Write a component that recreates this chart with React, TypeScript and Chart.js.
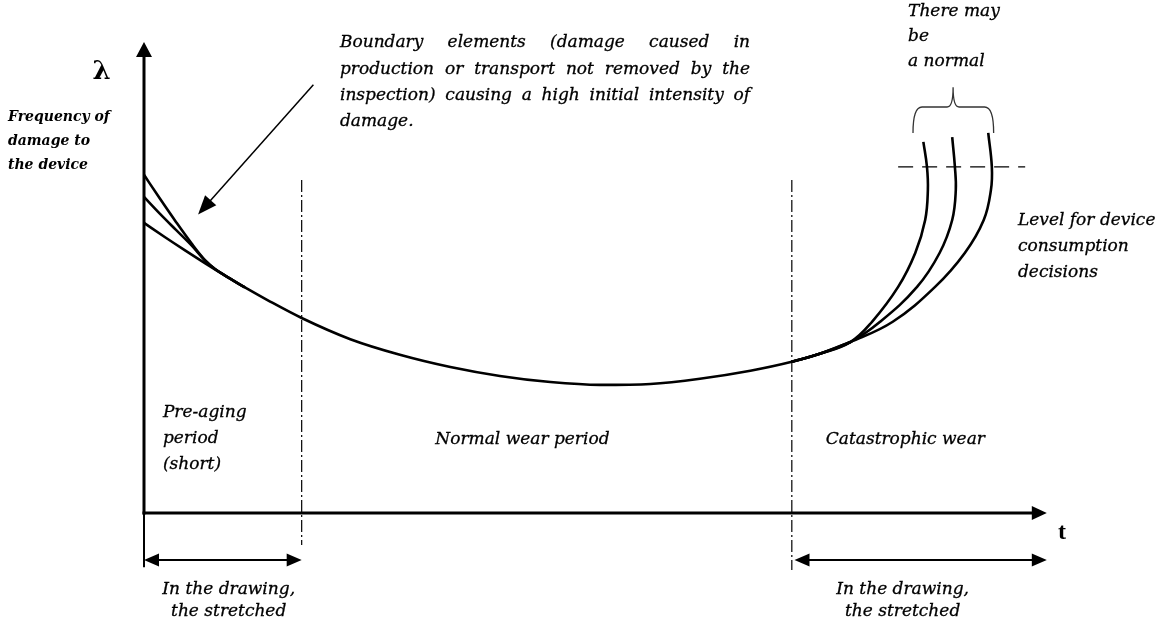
import React, { useEffect, useRef } from "react";
import { Chart, registerables } from "chart.js";

Chart.register(...registerables);

// ---- Data (time t and damage intensity λ, arbitrary units 0..100) ----
// main bathtub curve (lowest initial branch, normal wear, start of wear-out)
const mainT = [0, 2.3, 4.6, 6.8, 9.0, 11.2, 14.0, 17.5, 22.9, 28.4, 34.0, 39.5, 45.1, 50.6, 56.2, 61.7, 67.3, 71.9, 75.0, 78.4];
const mainLambda = [61.6, 58.6, 55.7, 53.0, 50.4, 47.9, 44.9, 41.4, 36.9, 33.6, 31.0, 29.1, 27.8, 27.2, 27.4, 28.5, 30.2, 32.1, 33.8, 36.3];

// higher initial intensities (boundary elements), merging into the main curve
const earlyT = [0, 1.78, 3.55, 5.33, 6.77, 7.88, 9.0, 11.2];
const earlyLambdaHigh = [71.8, 66.7, 61.8, 57.1, 53.7, 51.8, 50.4, 47.9];
const earlyLambdaMid = [67.1, 63.5, 60.1, 56.7, 53.6, 51.8, 50.4, 47.9];

// wear-out branches leaving the main curve
const lateTFirst = [71.9, 75.0, 78.4, 80.8, 83.7, 85.6, 86.7, 87.0, 86.9, 86.5];
const lateLambdaFirst = [32.1, 33.8, 36.3, 40.6, 48.0, 55.2, 62.2, 68.6, 73.5, 78.8];
const lateTSecond = [71.9, 75.0, 78.4, 81.7, 85.8, 88.3, 89.7, 90.1, 90.0, 89.7];
const lateLambdaSecond = [32.1, 33.8, 36.3, 40.6, 48.0, 55.2, 62.2, 68.6, 73.5, 79.8];
const lateTThird = [71.9, 75.0, 78.4, 83.1, 87.8, 91.1, 93.2, 94.0, 94.1, 93.7];
const lateLambdaThird = [32.1, 33.8, 36.3, 40.6, 48.0, 55.2, 62.2, 68.6, 73.5, 80.7];

const decisionLevel = 73.5;
const decisionLevelT = [83.7, 97.8];

const periodBoundsT = [17.5, 71.9];
const periodBoundTop = 70.7;
const periodBoundBottoms = [-6.8, -12.1];

// ---- Texts ----
const axisYLabel = "λ";
const axisXLabel = "t";
const yDescription = ["Frequency of", "damage to", "the device"];
const boundaryNote = [
  "Boundary elements (damage caused in",
  "production or transport not removed by the",
  "inspection) causing a high initial intensity of",
  "damage.",
];
const normalNote = ["There may", "be", "a normal"];
const levelNote = ["Level for device", "consumption", "decisions"];
const preAgingText = ["Pre-aging", "period", "(short)"];
const normalWearText = "Normal wear period";
const catastrophicText = "Catastrophic wear";
const stretchedText = ["In the drawing,", "the stretched"];

const SERIF = "'DejaVu Serif', serif";

const pts = (xs: number[], ys: number[]) => xs.map((x, i) => ({ x, y: ys[i] }));

function arrowHead(ctx: CanvasRenderingContext2D, fx: number, fy: number, tx: number, ty: number, len: number, half: number) {
  const a = Math.atan2(ty - fy, tx - fx);
  const bx = tx - len * Math.cos(a);
  const by = ty - len * Math.sin(a);
  ctx.beginPath();
  ctx.moveTo(tx, ty);
  ctx.lineTo(bx + half * Math.sin(a), by - half * Math.cos(a));
  ctx.lineTo(bx - half * Math.sin(a), by + half * Math.cos(a));
  ctx.closePath();
  ctx.fill();
}

function txt(ctx: CanvasRenderingContext2D, s: string, x: number, y: number) {
  ctx.fillText(s, x, y);
  ctx.strokeText(s, x, y);
}

function justified(ctx: CanvasRenderingContext2D, line: string, x0: number, x1: number, y: number) {
  const words = line.split(" ");
  const w = words.map((s) => ctx.measureText(s).width);
  const total = w.reduce((a, b) => a + b, 0);
  const gap = words.length > 1 ? (x1 - x0 - total) / (words.length - 1) : 0;
  let x = x0;
  words.forEach((s, i) => {
    txt(ctx, s, x, y);
    x += w[i] + gap;
  });
}

const diagramPlugin = {
  id: "diagram",
  afterDatasetsDraw(chart: any) {
    const ctx: CanvasRenderingContext2D = chart.ctx;
    const X = (v: number) => chart.scales.x.getPixelForValue(v);
    const Y = (v: number) => chart.scales.y.getPixelForValue(v);
    ctx.save();
    ctx.strokeStyle = "#000";
    ctx.fillStyle = "#000";
    ctx.lineCap = "butt";

    // axes
    ctx.lineWidth = 3;
    ctx.beginPath();
    ctx.moveTo(X(0), Y(0) + 1.5);
    ctx.lineTo(X(0), Y(100) + 12);
    ctx.stroke();
    arrowHead(ctx, X(0), Y(50), X(0), Y(100), 15, 8);
    ctx.beginPath();
    ctx.moveTo(X(0) - 1.5, Y(0));
    ctx.lineTo(X(100.2) - 12, Y(0));
    ctx.stroke();
    arrowHead(ctx, X(50), Y(0), X(100.2), Y(0), 15, 7);

    // dimension arrows under the axis
    ctx.lineWidth = 2;
    ctx.beginPath();
    ctx.moveTo(X(0), Y(0));
    ctx.lineTo(X(0), Y(-11.5));
    ctx.stroke();
    const dims: [number, number][] = [
      [0, periodBoundsT[0]],
      [periodBoundsT[1] + 0.3, 100.2],
    ];
    dims.forEach(([a, b]) => {
      ctx.beginPath();
      ctx.moveTo(X(a) + 10, Y(-10));
      ctx.lineTo(X(b) - 10, Y(-10));
      ctx.stroke();
      arrowHead(ctx, X(b), Y(-10), X(a), Y(-10), 15, 6.5);
      arrowHead(ctx, X(a), Y(-10), X(b), Y(-10), 15, 6.5);
    });

    // pointer arrow to initial curves
    ctx.lineWidth = 1.5;
    const p0 = { x: X(18.8), y: Y(90.9) };
    const p1 = { x: X(6.0), y: Y(63.4) };
    const a = Math.atan2(p1.y - p0.y, p1.x - p0.x);
    ctx.beginPath();
    ctx.moveTo(p0.x, p0.y);
    ctx.lineTo(p1.x - 14 * Math.cos(a), p1.y - 14 * Math.sin(a));
    ctx.stroke();
    arrowHead(ctx, p0.x, p0.y, p1.x, p1.y, 19, 7.5);

    // brace
    const xl = X(85.35), xr = X(94.3), xc = X(89.8);
    const yb = Y(80.7), ybar = Y(86.2), ypk = Y(90.4);
    ctx.lineWidth = 1.3;
    ctx.strokeStyle = "#333";
    ctx.beginPath();
    ctx.moveTo(xl, yb);
    ctx.quadraticCurveTo(xl, ybar, xl + 9, ybar);
    ctx.lineTo(xc - 6, ybar);
    ctx.quadraticCurveTo(xc, ybar, xc, ypk);
    ctx.moveTo(xc, ypk);
    ctx.quadraticCurveTo(xc, ybar, xc + 6, ybar);
    ctx.lineTo(xr - 9, ybar);
    ctx.quadraticCurveTo(xr, ybar, xr, yb);
    ctx.stroke();

    // texts
    ctx.strokeStyle = "#000";
    ctx.fillStyle = "#000";
    ctx.textBaseline = "middle";
    ctx.textAlign = "center";
    ctx.lineWidth = 0.3;
    ctx.font = `bold 26px ${SERIF}`;
    ctx.fillText(axisYLabel, X(-4.7), Y(93.6));
    ctx.font = "bold 24px 'Liberation Serif', serif";
    ctx.fillText(axisXLabel, X(101.9), Y(-4.2));

    ctx.textAlign = "left";
    ctx.font = `italic bold 14px ${SERIF}`;
    yDescription.forEach((s, i) => ctx.fillText(s, X(-15.1), Y(83.9 - i * 5)));

    ctx.font = `italic 17px ${SERIF}`;
    boundaryNote.forEach((s, i) => {
      const yy = Y(99.8 - i * 5.6);
      if (i < boundaryNote.length - 1) justified(ctx, s, X(21.75), X(67.26), yy);
      else txt(ctx, s, X(21.75), yy);
    });
    normalNote.forEach((s, i) => txt(ctx, s, X(84.8), Y(106.4 - i * 5.3)));
    levelNote.forEach((s, i) => txt(ctx, s, X(97.0), Y(62.0 - i * 5.5)));
    preAgingText.forEach((s, i) => txt(ctx, s, X(2.1), Y(21.4 - i * 5.6)));
    ctx.textAlign = "center";
    txt(ctx, normalWearText, X(42.0), Y(15.5));
    txt(ctx, catastrophicText, X(84.5), Y(15.5));
    stretchedText.forEach((s, i) => {
      txt(ctx, s, X(9.4), Y(-16.3 - i * 4.7));
      txt(ctx, s, X(84.2), Y(-16.3 - i * 4.7));
    });
    ctx.restore();
  },
};

export default function App() {
  const ref = useRef<HTMLCanvasElement>(null);
  useEffect(() => {
    if (!ref.current) return;
    const curve = (data: { x: number; y: number }[], monotone = false) => ({
      data,
      showLine: true,
      borderColor: "#000",
      borderWidth: 2.6,
      pointRadius: 0,
      tension: 0.4,
      cubicInterpolationMode: monotone ? ("monotone" as const) : ("default" as const),
      clip: false as const,
    });
    const chart = new Chart(ref.current, {
      type: "scatter",
      data: {
        datasets: [
          curve(pts(mainT, mainLambda), true),
          curve(pts(earlyT, earlyLambdaHigh), true),
          curve(pts(earlyT, earlyLambdaMid), true),
          curve(pts(lateTFirst, lateLambdaFirst)),
          curve(pts(lateTSecond, lateLambdaSecond)),
          curve(pts(lateTThird, lateLambdaThird)),
          {
            data: decisionLevelT.map((x) => ({ x, y: decisionLevel })),
            showLine: true,
            borderColor: "#000",
            borderWidth: 1.3,
            borderDash: [15, 9],
            pointRadius: 0,
            clip: false as const,
          },
          ...periodBoundsT.map((t, i) => ({
            data: [
              { x: t, y: periodBoundTop },
              { x: t, y: periodBoundBottoms[i] },
            ],
            showLine: true,
            borderColor: "#000",
            borderWidth: 1.2,
            borderDash: [12, 3, 2, 3],
            pointRadius: 0,
            clip: false as const,
          })),
        ],
      },
      options: {
        animation: false,
        responsive: false,
        devicePixelRatio: 1,
        events: [],
        layout: { padding: { left: 144, top: 42, right: 113, bottom: 113 } },
        scales: {
          x: { type: "linear", min: 0, max: 100, display: false },
          y: { type: "linear", min: 0, max: 100, display: false },
        },
        plugins: { legend: { display: false }, tooltip: { enabled: false } },
      },
      plugins: [diagramPlugin],
    });
    return () => chart.destroy();
  }, []);
  return (
    <div style={{ position: "absolute", left: 0, top: 0, width: 1158, height: 626, background: "#fff" }}>
      <canvas ref={ref} width={1158} height={626} style={{ display: "block" }} />
    </div>
  );
}
